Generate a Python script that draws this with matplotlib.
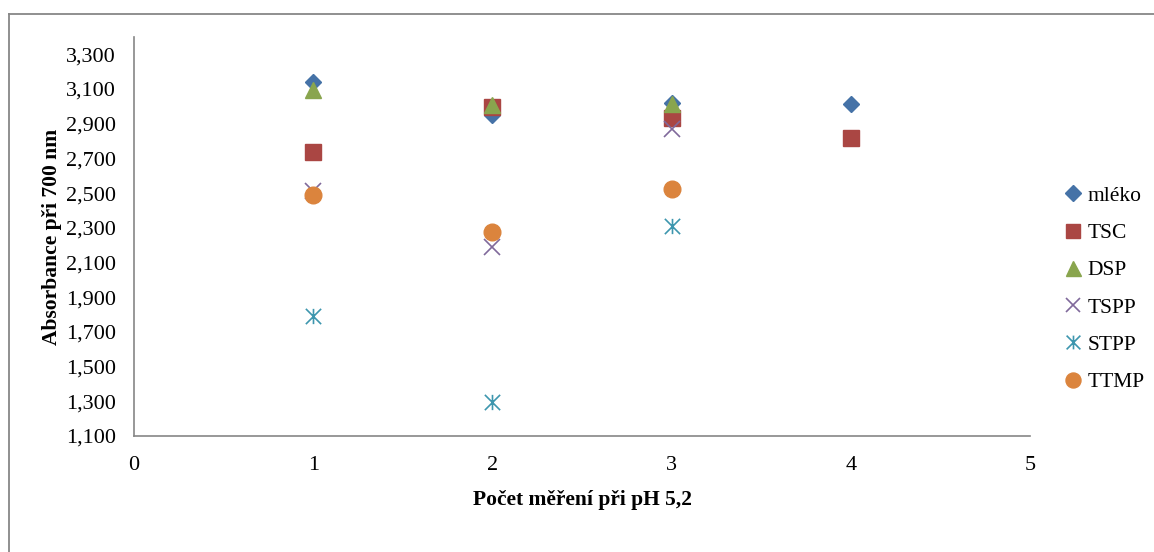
import matplotlib
matplotlib.use("Agg")
import matplotlib.pyplot as plt
from matplotlib.path import Path
from matplotlib.lines import Line2D
from matplotlib.ticker import FuncFormatter, MultipleLocator

plt.rcParams['font.family'] = ['Liberation Serif', 'DejaVu Serif']

# ---- data ----
series_names = ["mléko", "TSC", "DSP", "TSPP", "STPP", "TTMP"]
x_mleko = [1, 2, 3, 4]
y_mleko = [3141, 2952, 3021, 3016]
x_tsc = [1, 2, 3, 4]
y_tsc = [2737, 2995, 2933, 2820]
x_dsp = [1, 2, 3]
y_dsp = [3096, 3010, 3013]
x_tspp = [1, 2, 3]
y_tspp = [2515, 2191, 2868]
x_stpp = [1, 2, 3]
y_stpp = [1789, 1298, 2308]
x_ttmp = [1, 2, 3]
y_ttmp = [2488, 2277, 2521]

x_label = "Počet měření při pH 5,2"
y_label = "Absorbance při 700 nm"

# ---- styles ----
star = Path([(-1, -1), (1, 1), (-1, 1), (1, -1), (0, -1), (0, 1)],
            [Path.MOVETO, Path.LINETO, Path.MOVETO, Path.LINETO, Path.MOVETO, Path.LINETO])

styles = [
    dict(marker='D', ms=8.6, color='#4572A7', mec='#4572A7'),
    dict(marker='s', ms=11.5, color='#AA4643', mec='#AA4643'),
    dict(marker='^', ms=12, color='#89A54E', mec='#89A54E'),
    dict(marker='x', ms=11, color='#80699B', mew=1.2),
    dict(marker=star, ms=11, color='#3D96AE', mew=1.2),
    dict(marker='o', ms=12, color='#DB843D', mec='#DB843D'),
]
xs = [x_mleko, x_tsc, x_dsp, x_tspp, x_stpp, x_ttmp]
ys = [y_mleko, y_tsc, y_dsp, y_tspp, y_stpp, y_ttmp]

W, H = 1154, 552
fig = plt.figure(figsize=(W / 100, H / 100), dpi=100)
ax = fig.add_axes([134 / W, 1 - 436 / H, (1030 - 134) / W, (436 - 37) / H])

for name, x, y, st in zip(series_names, xs, ys, styles):
    ax.plot(x, y, linestyle='none', label=name, **st)

ax.set_xlim(0, 5)
ax.set_ylim(1100, 3400)
ax.xaxis.set_major_locator(MultipleLocator(1))
ax.set_yticks(list(range(1100, 3301, 200)))
ax.yaxis.set_major_formatter(FuncFormatter(lambda v, p: f"{int(v):,}"))

for s in ['top', 'right']:
    ax.spines[s].set_visible(False)
for s in ['left', 'bottom']:
    ax.spines[s].set_color('#868686')
    ax.spines[s].set_linewidth(1.2)

ax.tick_params(axis='both', length=0, labelsize=16, colors='black')
ax.tick_params(axis='y', pad=13)
ax.tick_params(axis='x', pad=14.5)

ax.set_xlabel(x_label, fontsize=15.5, fontweight='bold', labelpad=10.5)
ax.set_ylabel(y_label, fontsize=15.5, fontweight='bold', labelpad=3)

leg = ax.legend(loc='center left', bbox_to_anchor=(1062 / W, 1 - 289 / H),
                bbox_transform=fig.transFigure, frameon=False, fontsize=15.5,
                borderpad=0, borderaxespad=0, handlelength=1.0, handletextpad=0.2,
                labelspacing=0.8, markerscale=0.9)

# outer chart frame (partially visible)
fc = '#878787'
fig.add_artist(Line2D([8.5 / W, 8.5 / W], [0, 1 - 13.5 / H], transform=fig.transFigure,
                      color=fc, lw=1.3))
fig.add_artist(Line2D([8.5 / W, 1], [1 - 13.5 / H, 1 - 13.5 / H], transform=fig.transFigure,
                      color=fc, lw=1.3))

fig.savefig("out.png", dpi=100)
